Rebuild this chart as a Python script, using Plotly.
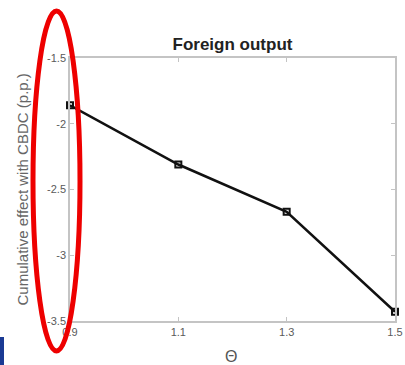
import plotly.graph_objects as go

theta = [0.9, 1.1, 1.3, 1.5]
effect = [-1.86, -2.31, -2.67, -3.43]
x_ticks = [0.9, 1.1, 1.3, 1.5]
x_tick_labels = ["0.9", "1.1", "1.3", "1.5"]
y_ticks = [-3.5, -3, -2.5, -2, -1.5]
y_tick_labels = ["-3.5", "-3", "-2.5", "-2", "-1.5"]

L, R, T, B = 70, 395, 58, 321
W, H = R - L, B - T

def px(x):
    return (x - L) / W

def py(y):
    return (B - y) / H

fig = go.Figure()
fig.add_trace(go.Scatter(
    x=theta, y=effect, mode="lines+markers",
    line=dict(color="#111111", width=2.5),
    marker=dict(symbol="square-open", size=6, color="#111111", line=dict(width=2)),
    cliponaxis=False, showlegend=False,
))

axis_common = dict(
    showline=True, mirror="allticks", linecolor="#c4c4c4", linewidth=1.5,
    ticks="inside", ticklen=4, tickcolor="#c4c4c4", tickwidth=1,
    showgrid=False, zeroline=False, automargin=False,
    tickfont=dict(family="Liberation Sans, Arial, sans-serif", size=11, color="#5a5a5a"),
)

fig.update_xaxes(range=[0.9, 1.5], tickvals=x_ticks, ticktext=x_tick_labels, **axis_common)
fig.update_yaxes(range=[-3.5, -1.5], tickvals=y_ticks, ticktext=y_tick_labels, **axis_common)

fig.update_layout(
    width=405, height=365,
    margin=dict(l=L, r=405 - R, t=T, b=365 - B),
    paper_bgcolor="white", plot_bgcolor="white",
    title=dict(text="<b>Foreign output</b>", x=0.5, xanchor="center", xref="paper",
               y=1 - 44 / 365, yanchor="middle",
               font=dict(family="Liberation Sans, Arial", size=17, color="#222222")),
    annotations=[
        dict(text="Cumulative effect with CBDC (p.p.)", xref="paper", yref="paper",
             x=px(22), y=0.5, xanchor="center", yanchor="middle", textangle=-90,
             showarrow=False, font=dict(family="Liberation Sans, Arial", size=15, color="#666666")),
        dict(text="Θ", xref="paper", yref="paper",
             x=px(231), y=py(356), xanchor="center", yanchor="middle",
             showarrow=False, font=dict(family="Liberation Sans, Arial", size=16, color="#555555")),
    ],
    shapes=[
        dict(type="circle", xref="paper", yref="paper",
             x0=px(33), x1=px(80), y0=py(351), y1=py(11),
             line=dict(color="#ee0000", width=5), layer="above"),
        dict(type="rect", xref="paper", yref="paper",
             x0=px(0), x1=px(4), y0=py(366), y1=py(337),
             fillcolor="#1a3a94", line=dict(width=0), layer="above"),
    ],
)

fig.write_html("out.html", config={"displayModeBar": False})

with open("out.html", "r", encoding="utf-8") as f:
    html = f.read()
html = html.replace("<head>", "<head><style>html,body{margin:0;padding:0;overflow:hidden;}</style>", 1)
with open("out.html", "w", encoding="utf-8") as f:
    f.write(html)
